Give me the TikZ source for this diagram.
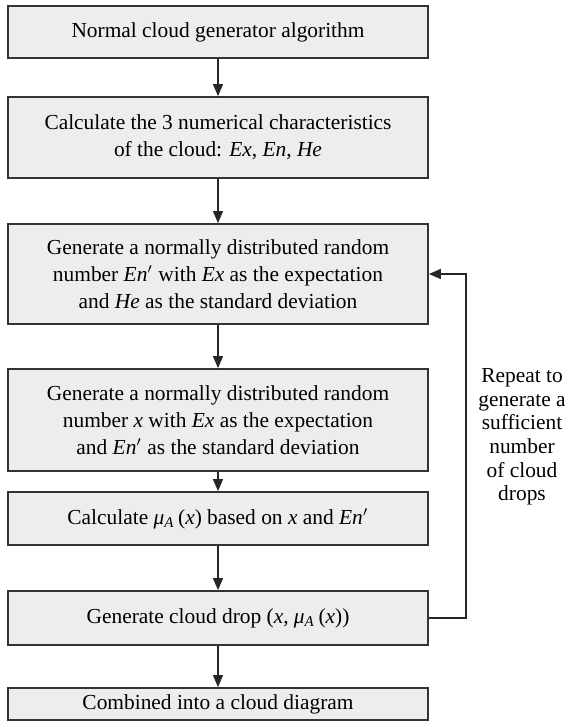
\documentclass[tikz,border=0pt]{standalone}
\usepackage{fontspec}
\setmainfont{Liberation Serif}
\usetikzlibrary{arrows.meta}

\definecolor{boxfill}{HTML}{EDEDED}
\definecolor{boxline}{HTML}{333333}
\newcommand{\enp}{\textit{En}$'$}
\newcommand{\mux}{\textit{μ}\textsubscript{\textit{A}}\,(\textit{x})}

\tikzset{
    stepbox/.style={draw=boxline, line width=0.9pt, fill=boxfill, minimum width=210pt,
        align=center, inner sep=0pt, font=\fontsize{10.7}{13.5}\selectfont},
    flow/.style={-{Triangle[length=6pt,width=5pt]}, line width=0.55pt, draw=black!85},
}

\begin{document}
\begin{tikzpicture}[x=0.5pt, y=-0.5pt]
    \useasboundingbox (0,0) rectangle (564,722);
    \node[stepbox, minimum height=26pt] (gen) at (218,32) {Normal cloud generator algorithm};
    \node[stepbox, minimum height=40.5pt] (chars) at (218,137.5) {Calculate the 3 numerical characteristics\\of the cloud: \textit{Ex}, \textit{En}, \textit{He}};
    \node[stepbox, minimum height=50pt] (enp) at (218,274) {Generate a normally distributed random\\number \enp{} with \textit{Ex} as the expectation\\and \textit{He} as the standard deviation};
    \node[stepbox, minimum height=51pt] (xnum) at (218,420) {Generate a normally distributed random\\number \textit{x} with \textit{Ex} as the expectation\\and \enp{} as the standard deviation};
    \node[stepbox, minimum height=26.5pt] (mu) at (218,518.5) {Calculate \mux{} based on \textit{x} and \enp};
    \node[stepbox, minimum height=27pt] (drop) at (218,618) {Generate cloud drop (\textit{x}, \mux)};
    \node[stepbox, minimum height=16pt] (diag) at (218,704) {Combined into a cloud diagram};
    \node[align=center, font=\fontsize{10.7}{11.8}\selectfont] (repeat) at (522,437) {Repeat to\\generate a\\sufficient\\number\\of cloud\\drops};

    % main chain
    \foreach \a/\b in {gen/chars, chars/enp, enp/xnum, xnum/mu, mu/drop, drop/diag}
        \draw[flow] (\a) -- (\b);
    % loop back
    \coordinate (turn) at (466,618);
    \draw[flow] (drop.east) -- (turn) |- (enp.east);
\end{tikzpicture}
\end{document}
